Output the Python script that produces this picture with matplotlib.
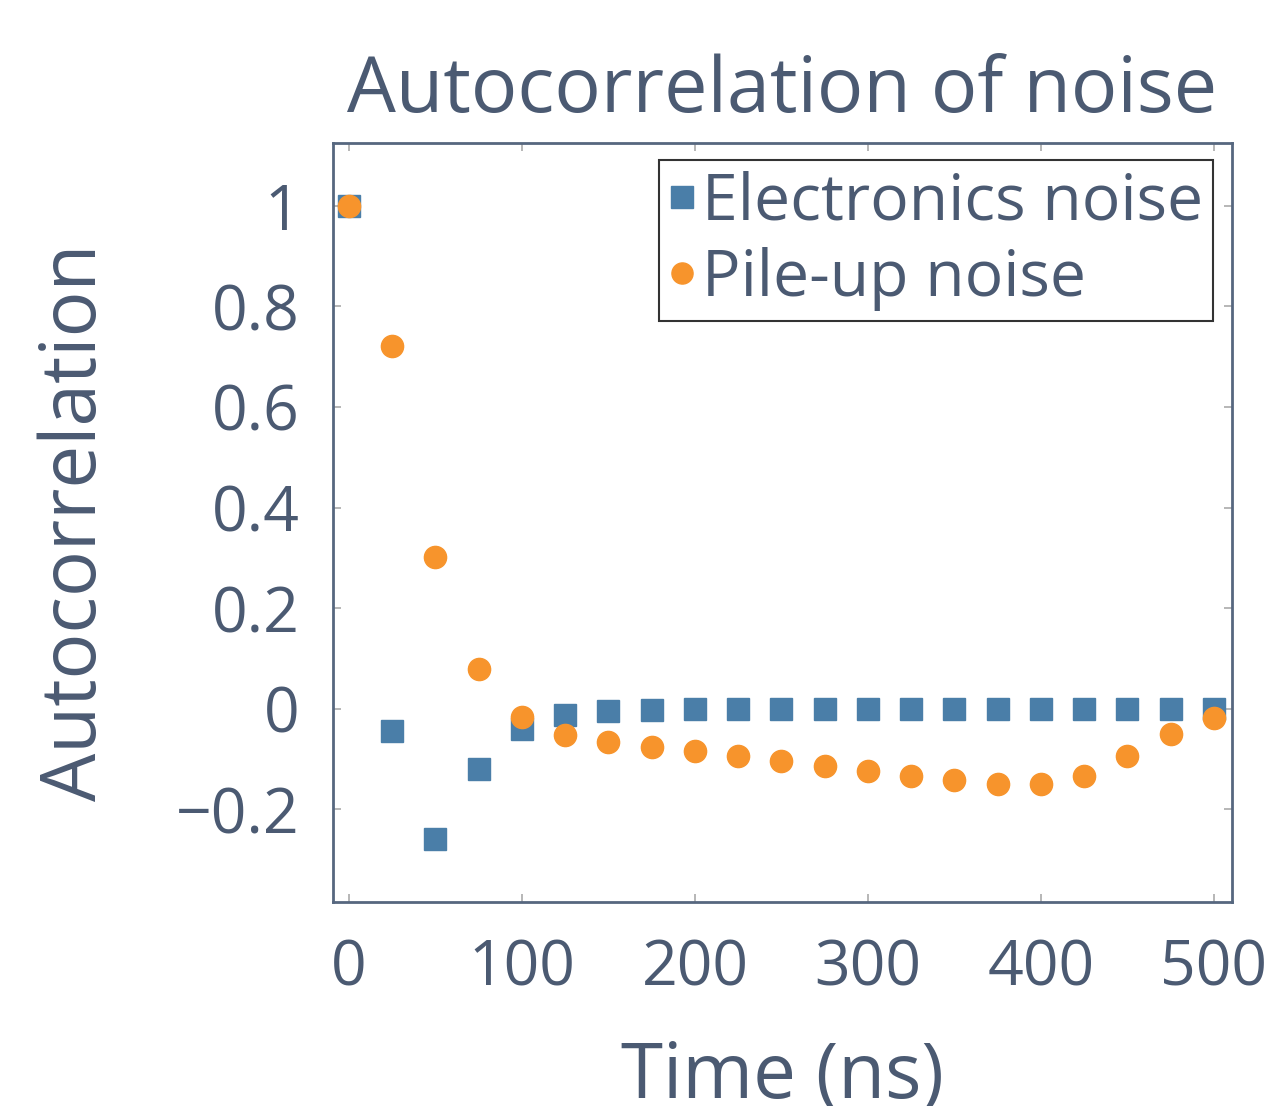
import numpy as np
import matplotlib.pyplot as plt

plt.rcParams['font.family'] = ['Open Sans', 'DejaVu Sans']

time_ns = [0, 25, 50, 75, 100, 125, 150, 175, 200, 225, 250, 275, 300,
           325, 350, 375, 400, 425, 450, 475, 500]
electronics = [1.0, -0.044, -0.258, -0.119, -0.040, -0.012, -0.004, -0.002,
               0.0, 0.0, 0.0, 0.0, 0.0, 0.0, 0.0, 0.0, 0.0, 0.0, 0.0, 0.0, 0.0]
pileup = [1.0, 0.722, 0.302, 0.080, -0.016, -0.052, -0.066, -0.076, -0.084,
          -0.093, -0.103, -0.113, -0.123, -0.133, -0.141, -0.149, -0.149,
          -0.133, -0.093, -0.050, -0.018]
xticks = [0, 100, 200, 300, 400, 500]
yticks = [-0.2, 0, 0.2, 0.4, 0.6, 0.8, 1]
ytick_labels = ['\u22120.2', '0', '0.2', '0.4', '0.6', '0.8', '1']

text_col = '#4b5a72'
frame_col = '#56677f'
blue = '#4a7ea8'
orange = '#f7942c'

fig = plt.figure(figsize=(12.71, 11.06), dpi=100)
ax = fig.add_axes([0.262, 0.1844, 0.7073, 0.6863])

ax.plot(time_ns, electronics, 's', color=blue, markersize=16, label='Electronics noise', zorder=3)
ax.plot(time_ns, pileup, 'o', color=orange, markersize=16, label='Pile-up noise', zorder=4)

ax.set_xlim(-9.2, 510.4)
ax.set_ylim(-0.384, 1.125)
ax.set_xticks(xticks)
ax.set_yticks(yticks)
ax.set_yticklabels(ytick_labels)

for s in ax.spines.values():
    s.set_color(frame_col)
    s.set_linewidth(2)

ax.tick_params(direction='in', length=6, width=1.2, color='#aaaaaa',
               top=True, right=True, labelsize=45, labelcolor=text_col)
ax.tick_params(axis='x', pad=26)
ax.tick_params(axis='y', pad=24)

ax.set_title('Autocorrelation of noise', fontsize=55.7, color=text_col, pad=22)
ax.set_xlabel('Time (ns)', fontsize=55, color=text_col, labelpad=28)
ax.set_ylabel('Autocorrelation', fontsize=55, color=text_col, labelpad=45)

leg = ax.legend(loc='upper right', bbox_to_anchor=(0.979, 0.977), fontsize=46.3,
                frameon=True, fancybox=False, handlelength=0.4, handletextpad=0.12,
                borderpad=0.15, borderaxespad=0, labelspacing=0.2, markerscale=0.95)
leg.get_frame().set_edgecolor('black')
leg.get_frame().set_linewidth(1.5)
for t in leg.get_texts():
    t.set_color(text_col)

fig.savefig('out.png', dpi=100)
